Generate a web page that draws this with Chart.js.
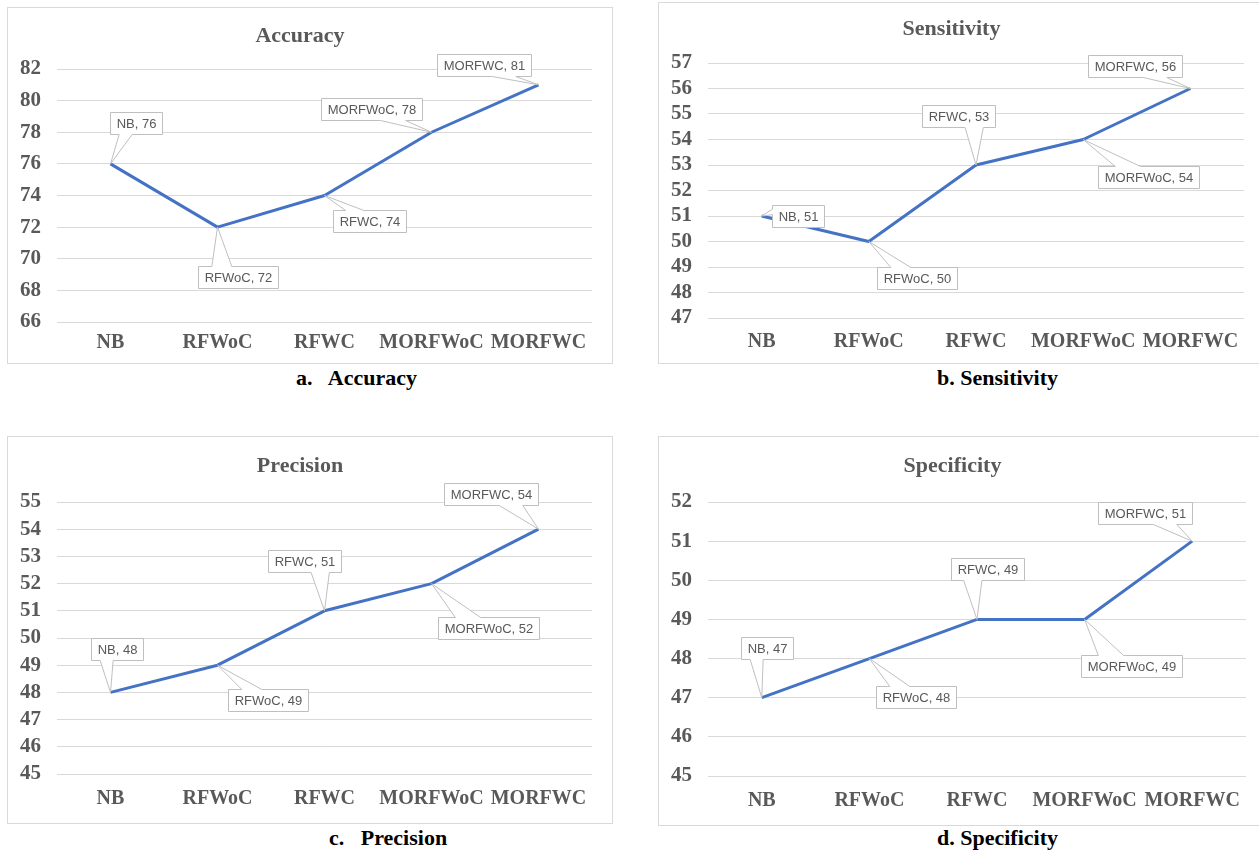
<!DOCTYPE html>
<html>
<head>
<meta charset="utf-8">
<script src="https://cdn.jsdelivr.net/npm/chart.js@4.4.0/dist/chart.umd.min.js"></script>
<style>
  html, body { margin: 0; padding: 0; background: #fff; }
  body { width: 1259px; height: 854px; position: relative; overflow: hidden; }
  .panel { position: absolute; border: 1px solid #d9d9d9; box-sizing: border-box; background: #fff; }
  .panel canvas { display: block; }
  .caption { position: absolute; font-family: "Liberation Serif", "Times New Roman", serif; font-weight: bold;
             font-size: 22px; color: #000; white-space: pre; line-height: 1; }
</style>
</head>
<body>
<div id="root"></div>
<script>
// --- data ---
const categories = ['NB', 'RFWoC', 'RFWC', 'MORFWoC', 'MORFWC'];

const accuracy    = [76, 72, 74, 78, 81];
const sensitivity = [51, 50, 53, 54, 56];
const precision   = [48, 49, 51, 52, 54];
const specificity = [47, 48, 49, 49, 51];

const accuracyTicks    = [66, 68, 70, 72, 74, 76, 78, 80, 82];
const sensitivityTicks = [47, 48, 49, 50, 51, 52, 53, 54, 55, 56, 57];
const precisionTicks   = [45, 46, 47, 48, 49, 50, 51, 52, 53, 54, 55];
const specificityTicks = [45, 46, 47, 48, 49, 50, 51, 52];

// --- layout of the four panels (box = left, top, width, height) ---
const SERIF = '"Liberation Serif", "Times New Roman", serif';
const GREY = '#595959';

const panels = [
  { title: 'Accuracy', caption: 'a.   Accuracy', values: accuracy, ticks: accuracyTicks,
    box: [7, 7, 606, 357], top: 61, bottom: 314, right: 20, titleY: 28, xGap: 21,
    offsets: [[25, -41], [20, 50], [45, 25], [-60, -23], [-55, -20]], cap: [296, 367] },
  { title: 'Sensitivity', caption: 'b. Sensitivity', values: sensitivity, ticks: sensitivityTicks,
    box: [658, 2, 602, 362], top: 60, bottom: 315, right: 15, titleY: 26, xGap: 24,
    offsets: [[36, 0], [48, 36], [-18, -49], [65, 37], [-55, -23]], cap: [937, 367] },
  { title: 'Precision', caption: 'c.   Precision', values: precision, ticks: precisionTicks,
    box: [7, 436, 606, 388], top: 65, bottom: 337, right: 20, titleY: 29, xGap: 25,
    offsets: [[6, -43], [50, 35], [-20, -50], [57, 44], [-48, -35]], cap: [329, 827] },
  { title: 'Specificity', caption: 'd. Specificity', values: specificity, ticks: specificityTicks,
    box: [658, 436, 602, 390], top: 65, bottom: 339, right: 13, titleY: 29, xGap: 25,
    offsets: [[5, -50], [47, 38], [10, -50], [47, 47], [-47, -28]], cap: [937, 827] }
];

// Excel-style wedge callout round a data label
function drawCallout(ctx, l, t, r, b, tx, ty) {
  const w = r - l, h = b - t;
  const dx = tx - (l + w / 2), dy = ty - (t + h / 2);
  const vertical = Math.abs(dy) - Math.abs(dx * h / w) > 0;
  const x1 = l + w * (dx > 0 ? 7 : 2) / 12, x2 = l + w * (dx > 0 ? 10 : 5) / 12;
  const y1 = t + h * (dy > 0 ? 7 : 2) / 12, y2 = t + h * (dy > 0 ? 10 : 5) / 12;
  ctx.beginPath();
  ctx.moveTo(l, t);
  if (vertical && dy < 0) { ctx.lineTo(x1, t); ctx.lineTo(tx, ty); ctx.lineTo(x2, t); }
  ctx.lineTo(r, t);
  if (!vertical && dx > 0) { ctx.lineTo(r, y1); ctx.lineTo(tx, ty); ctx.lineTo(r, y2); }
  ctx.lineTo(r, b);
  if (vertical && dy > 0) { ctx.lineTo(x2, b); ctx.lineTo(tx, ty); ctx.lineTo(x1, b); }
  ctx.lineTo(l, b);
  if (!vertical && dx < 0) { ctx.lineTo(l, y2); ctx.lineTo(tx, ty); ctx.lineTo(l, y1); }
  ctx.closePath();
  ctx.fillStyle = '#fff';
  ctx.fill();
  ctx.strokeStyle = '#bfbfbf';
  ctx.lineWidth = 1;
  ctx.stroke();
}

const calloutLabels = {
  id: 'calloutLabels',
  afterDatasetsDraw(chart, args, opts) {
    const ctx = chart.ctx;
    const meta = chart.getDatasetMeta(0);
    const ds = chart.data.datasets[0];
    ctx.save();
    ctx.font = '13px "Liberation Sans Narrow", "Liberation Sans", Arial, sans-serif';
    meta.data.forEach((pt, i) => {
      const text = chart.data.labels[i] + ', ' + ds.data[i];
      const w = Math.round(ctx.measureText(text).width) + 12;
      const h = 22;
      const [ox, oy] = opts.offsets[i];
      const cx = pt.x + ox, cy = pt.y + oy;
      const l = Math.round(cx - w / 2) + 0.5, t = Math.round(cy - h / 2) + 0.5;
      drawCallout(ctx, l, t, l + w, t + h, pt.x, pt.y);
      ctx.fillStyle = GREY;
      ctx.textAlign = 'center';
      ctx.textBaseline = 'middle';
      ctx.fillText(text, l + w / 2, t + h / 2 + 1);
    });
    ctx.restore();
  }
};

const root = document.getElementById('root');

panels.forEach(p => {
  const [bx, by, bw, bh] = p.box;
  const div = document.createElement('div');
  div.className = 'panel';
  Object.assign(div.style, { left: bx + 'px', top: by + 'px', width: bw + 'px', height: bh + 'px' });
  const canvas = document.createElement('canvas');
  canvas.width = bw - 2;
  canvas.height = bh - 2;
  div.appendChild(canvas);
  root.appendChild(div);

  const cap = document.createElement('div');
  cap.className = 'caption';
  cap.textContent = p.caption;
  cap.style.left = p.cap[0] + 'px';
  cap.style.top = p.cap[1] + 'px';
  root.appendChild(cap);

  const titleSize = 22, titleLH = 1.2;
  const half = titleSize * titleLH / 2;

  new Chart(canvas.getContext('2d'), {
    type: 'line',
    data: {
      labels: categories,
      datasets: [{
        data: p.values,
        borderColor: '#4472C4',
        borderWidth: 3,
        pointRadius: 0,
        tension: 0,
        fill: false,
        borderJoinStyle: 'round'
      }]
    },
    options: {
      responsive: false,
      animation: false,
      events: [],
      layout: { padding: { top: 0, right: p.right, bottom: 0, left: 0 } },
      plugins: {
        legend: { display: false },
        tooltip: { enabled: false },
        title: {
          display: true,
          text: p.title,
          color: GREY,
          font: { family: SERIF, size: titleSize, weight: 'bold', lineHeight: titleLH },
          padding: { top: p.titleY - half, bottom: p.top - p.titleY - half }
        },
        calloutLabels: { offsets: p.offsets }
      },
      scales: {
        x: {
          offset: true,
          grid: { display: false, drawTicks: false },
          border: { display: false },
          ticks: {
            color: GREY,
            font: { family: SERIF, size: 20, weight: 'bold' },
            padding: p.xGap - 12,
            maxRotation: 0,
            autoSkip: false
          },
          afterFit: s => { s.height = canvas.height - p.bottom; }
        },
        y: {
          min: p.ticks[0],
          max: p.ticks[p.ticks.length - 1],
          grid: { color: '#d9d9d9', lineWidth: 1, drawTicks: false },
          border: { display: false },
          ticks: {
            stepSize: p.ticks[1] - p.ticks[0],
            autoSkip: false,
            color: GREY,
            font: { family: SERIF, size: 21, weight: 'bold' },
            padding: 16
          },
          afterFit: s => { s.width = 49; }
        }
      }
    },
    plugins: [calloutLabels]
  });
});
</script>
</body>
</html>
